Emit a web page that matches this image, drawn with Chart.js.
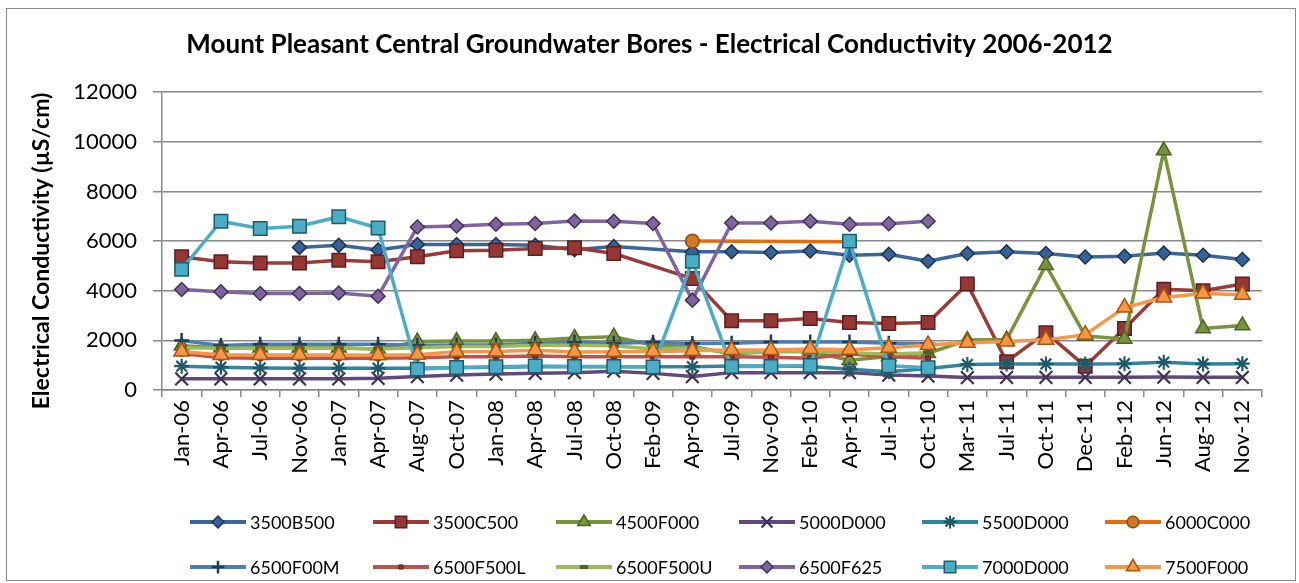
<!DOCTYPE html>
<html><head><meta charset="utf-8">
<script src="https://cdn.jsdelivr.net/npm/chart.js@4.4.0/dist/chart.umd.min.js"></script>
<style>
html,body{margin:0;padding:0;background:#fff;}
#wrap{position:relative;width:1299px;height:583px;overflow:hidden;}
#frame{position:absolute;left:6px;top:8px;width:1290px;height:573px;border:1.5px solid #8a8a8a;box-sizing:border-box;}
canvas{position:absolute;left:0;top:0;}
</style></head><body>
<div id="wrap"><div id="frame"></div><canvas id="c" width="1299" height="583"></canvas></div>
<script>
const categories = ['Jan-06','Apr-06','Jul-06','Nov-06','Jan-07','Apr-07','Aug-07','Oct-07','Jan-08','Apr-08','Jul-08','Oct-08','Feb-09','Apr-09','Jul-09','Nov-09','Feb-10','Apr-10','Jul-10','Oct-10','Mar-11','Jul-11','Oct-11','Dec-11','Feb-12','Jun-12','Aug-12','Nov-12'];
const yTicks = [0,2000,4000,6000,8000,10000,12000];

const s3500B500 = [null,null,null,5740,5830,5640,5860,5860,5860,5830,5650,5780,null,5570,5570,5540,5600,5430,5470,5190,5500,5570,5500,5360,5390,5520,5430,5260];
const s3500C500 = [5370,5170,5120,5120,5230,5170,5370,5610,5630,5700,5730,5500,null,4490,2790,2790,2880,2720,2680,2720,4270,1140,2310,960,2480,4060,4000,4270];
const s4500F000 = [1780,1700,1700,1700,1700,1650,1950,1970,1970,2000,2100,2150,1800,1750,1450,1550,1550,1200,1350,1480,2010,2030,5030,2180,2060,9650,2480,2600];
const s5000D000 = [450,450,450,450,450,470,540,600,640,670,700,760,670,540,700,700,700,700,600,560,500,510,510,510,510,520,510,510];
const s5500D000 = [960,920,890,880,880,880,880,900,920,940,940,940,940,940,970,970,950,840,740,870,1030,1050,1050,1050,1060,1120,1050,1060];
const s6000C000 = [null,null,null,null,null,null,null,null,null,null,null,null,null,6000,null,null,null,5970,null,null,null,null,null,null,null,null,null,null];
const s6500F00M = [1990,1790,1840,1840,1840,1840,1800,1810,1810,1880,1920,1880,1920,1870,1880,1930,1930,1930,1880,1860,null,null,null,null,null,null,null,null];
const s6500F500L = [1470,1300,1280,1280,1280,1280,1300,1340,1340,1370,1340,1340,1340,1340,1340,1320,1280,1450,1340,1280,null,null,null,null,null,null,null,null];
const s6500F500U = [1700,1680,1680,1680,1680,1650,1700,1750,1750,1800,1800,1780,1650,1700,1500,1550,1550,1500,1450,1500,null,null,null,null,null,null,null,null];
const s6500F625 = [4050,3960,3890,3890,3910,3780,6570,6610,6680,6710,6810,6800,6710,3620,6730,6730,6800,6680,6700,6800,null,null,null,null,null,null,null,null];
const s7000D000 = [4860,6800,6510,6600,6980,6530,840,910,940,970,950,950,930,5190,950,950,990,6000,980,900,null,null,null,null,null,null,null,null];
const s7500F000 = [1550,1410,1410,1410,1410,1400,1420,1540,1550,1600,1530,1540,1550,1580,1610,1610,1650,1620,1700,1810,1900,1950,2020,2230,3320,3730,3890,3840];

const seriesNames = ['3500B500','3500C500','4500F000','5000D000','5500D000','6000C000','6500F00M','6500F500L','6500F500U','6500F625','7000D000','7500F000'];
const seriesData = [s3500B500,s3500C500,s4500F000,s5000D000,s5500D000,s6000C000,s6500F00M,s6500F500L,s6500F500U,s6500F625,s7000D000,s7500F000];
const lineColors = ['#3A6698','#9B3B38','#77933C','#604A7B','#31859C','#E46C0A','#4A7EBB','#C0504D','#9BBB59','#8064A2','#4BACC6','#F79646'];
const markFill  = ['#36629A','#953735','#77933C','#604A7B','#31859C','#D2772A','#1F3A5F','#8B2F2D','#4F6228','#8064A2','#4BACC6','#F79646'];
const markEdge  = ['#1C3350','#5A1F1E','#4F6228','#3F3151','#215968','#984807','#1F3A5F','#632523','#4F6228','#3F3151','#215968','#A8560A'];
const markStyle = ['rectRot','rect','triangle','crossRot','star','circle','cross','rect','line','rectRot','rect','triangle'];
const markSize  = [7,9.5,8.5,9,7.5,6.8,7.5,3.5,5,7,9.5,9];
const markBW    = [1.5,1.5,1.5,2.2,2.2,1.5,2.5,1,4,1.5,1.5,1.5];

const datasets = seriesNames.map((name, i) => ({
  label: name,
  data: seriesData[i],
  borderColor: lineColors[i],
  backgroundColor: lineColors[i],
  borderWidth: 3.5,
  borderJoinStyle: 'round',
  borderCapStyle: 'round',
  pointStyle: markStyle[i],
  pointRadius: markSize[i],
  pointHoverRadius: markSize[i],
  pointBackgroundColor: markFill[i],
  pointBorderColor: markEdge[i],
  pointBorderWidth: markBW[i],
  spanGaps: true,
  tension: 0,
  order: seriesNames.length - 1 - i
}));

const extras = {
  id: 'extras',
  afterDraw(chart) {
    const ctx = chart.ctx;
    ctx.save();
    // y axis title
    ctx.save();
    ctx.translate(42, 251);
    ctx.rotate(-Math.PI / 2);
    ctx.font = 'bold 23px Lato';
    ctx.fillStyle = '#000';
    ctx.textAlign = 'center';
    ctx.textBaseline = 'middle';
    ctx.fillText('Electrical Conductivity (\u00B5S/cm)', 0, 0);
    ctx.restore();
    // legend
    ctx.font = '18px Lato';
    ctx.textBaseline = 'middle';
    ctx.textAlign = 'left';
    chart.data.datasets.forEach((d, i) => {
      const col = i % 6, row = Math.floor(i / 6);
      const x0 = 190 + col * 183, y = 522 + row * 45;
      ctx.strokeStyle = d.borderColor;
      ctx.lineWidth = 4;
      ctx.lineCap = 'butt';
      ctx.beginPath(); ctx.moveTo(x0, y); ctx.lineTo(x0 + 56, y); ctx.stroke();
      ctx.fillStyle = d.pointBackgroundColor;
      ctx.strokeStyle = d.pointBorderColor;
      ctx.lineWidth = d.pointBorderWidth;
      Chart.helpers.drawPoint(ctx, {pointStyle: d.pointStyle, radius: d.pointRadius * 0.85, borderWidth: d.pointBorderWidth, rotation: 0}, x0 + 28, y);
      ctx.fillStyle = '#000';
      ctx.fillText(d.label, x0 + 60, y + 1);
    });
    ctx.restore();
  }
};

Chart.defaults.font.family = 'Lato';
Chart.defaults.color = '#000';

new Chart(document.getElementById('c'), {
  type: 'line',
  data: { labels: categories, datasets },
  options: {
    responsive: false,
    animation: false,
    devicePixelRatio: 1,
    layout: { padding: { left: 37, right: 37, top: 0, bottom: 83 } },
    plugins: {
      legend: { display: false },
      tooltip: { enabled: false },
      title: {
        display: true,
        text: 'Mount Pleasant Central Groundwater Bores - Electrical Conductivity 2006-2012',
        font: { size: 26, weight: 'bold', family: 'Lato' },
        color: '#000',
        padding: { top: 29, bottom: 32 }
      }
    },
    scales: {
      x: {
        offset: true,
        grid: { offset: true, drawOnChartArea: false, drawTicks: true, tickLength: 7, color: '#888', lineWidth: 1.5 },
        border: { color: '#888', width: 1.5 },
        ticks: { autoSkip: false, maxRotation: 90, minRotation: 90, padding: 3, font: { size: 22 }, color: '#000' },
        afterFit(scale) { scale.height = 110; }
      },
      y: {
        min: 0, max: 12000,
        afterBuildTicks(scale) { scale.ticks = yTicks.map(v => ({ value: v })); },
        grid: { color: '#888', lineWidth: 1.5, tickLength: 9 },
        border: { color: '#888', width: 1.5 },
        ticks: { padding: 16, font: { size: 22 }, color: '#000', callback: v => String(v) },
        afterFit(scale) { scale.width = 125; }
      }
    }
  },
  plugins: [extras]
});
</script>
</body></html>
